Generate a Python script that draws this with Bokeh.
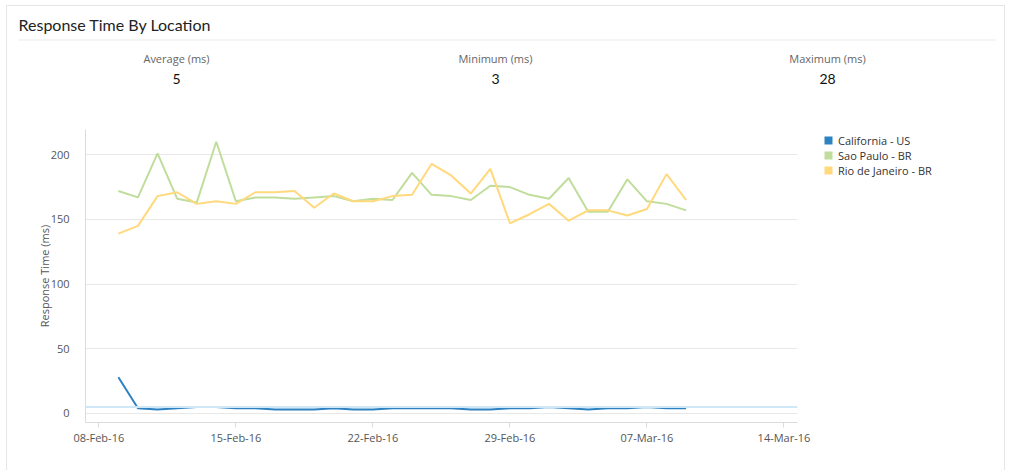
from datetime import datetime, timedelta
import pandas as pd
from bokeh.plotting import figure
from bokeh.layouts import column, row
from bokeh.models import (Span, Legend, LegendItem, FixedTicker, DatetimeTickFormatter,
                          Range1d, ColumnDataSource)
from bokeh.core.properties import value
from bokeh.embed import file_html
from bokeh.resources import INLINE

# ---------------- data ----------------
title_text = "Response Time By Location"
stat_labels = ["Average (ms)", "Minimum (ms)", "Maximum (ms)"]
stat_values = ["5", "3", "28"]
avg_value = 5

dates = pd.date_range("2016-02-09", "2016-03-09", freq="D")
california = [28, 4, 3, 4, 5, 5, 4, 4, 3, 3, 3, 4, 3, 3, 4, 4, 4, 4, 3, 3,
              4, 4, 5, 4, 3, 4, 4, 5, 4, 4]
sao_paulo = [172, 167, 201, 166, 163, 210, 164, 167, 167, 166, 167, 168, 164, 166, 165,
             186, 169, 168, 165, 176, 175, 169, 166, 182, 156, 156, 181, 164, 162, 157]
rio = [139, 145, 168, 171, 162, 164, 162, 171, 171, 172, 159, 170, 164, 164, 168,
       169, 193, 184, 170, 189, 147, 154, 162, 149, 157, 157, 153, 158, 185, 165]
series_names = ["California - US", "Sao Paulo - BR", "Rio de Janeiro - BR"]
series_values = [california, sao_paulo, rio]
series_colors = ["#2e82c2", "#c0dd9c", "#ffd97c"]

x_tick_dates = [datetime(2016, 2, 8), datetime(2016, 2, 15), datetime(2016, 2, 22),
                datetime(2016, 2, 29), datetime(2016, 3, 7), datetime(2016, 3, 14)]
y_ticks = [0, 50, 100, 150, 200]

# ---------------- layout constants (page pixels) ----------------
CARD_L, CARD_T = 6, 5            # card border position
OX, OY = CARD_L + 1, CARD_T + 1  # content origin inside the border
CW = 997                         # content width
HEAD_H = 100                     # header height
FL, FR, FT, FB = 85, 797, 129, 422   # plot frame in page pixels
PAGE_H = 470
CHART_RB = 20                    # right border of chart (room for last tick label)

# ---------------- header ----------------
head = figure(width=CW, height=HEAD_H, output_backend="svg", toolbar_location=None,
              x_axis_type=None, y_axis_type=None,
              x_range=Range1d(0, CW), y_range=Range1d(HEAD_H, 0),
              min_border=0, frame_align=False)
head.outline_line_color = None
head.grid.visible = False

head.text(x=[18 - OX], y=[24 - OY], text=[title_text], text_font=value("Lato"),
          text_font_size="16px", text_color="#222222", text_baseline="middle",
          text_align="left")
head.segment(x0=[18 - OX], x1=[995 - OX], y0=[39.5 - OY], y1=[39.5 - OY],
             line_color="#ebebeb", line_width=1)
stat_x = [176 - OX, 495 - OX, 827 - OX]
head.text(x=stat_x, y=[58 - OY] * 3, text=stat_labels, text_font=value("Open Sans"),
          text_font_size="11px", text_color="#666666", text_baseline="middle",
          text_align="center")
head.text(x=stat_x, y=[78 - OY] * 3, text=stat_values, text_font=value("Lato"),
          text_font_size="14px", text_color="#111111", text_baseline="middle",
          text_align="center")

# ---------------- chart ----------------
chart_top = OY + HEAD_H
chart_h = PAGE_H - chart_top
chart_w = FR - OX + CHART_RB
x_start = datetime(2016, 2, 8) - timedelta(days=0.68)
x_end = datetime(2016, 2, 8) + timedelta(days=35.69)

p = figure(width=chart_w, height=chart_h, output_backend="svg", toolbar_location=None,
           x_axis_type="datetime",
           x_range=Range1d(x_start, x_end), y_range=Range1d(-7, 219.5),
           min_border_left=FL - OX, min_border_right=CHART_RB,
           min_border_top=FT - chart_top, min_border_bottom=PAGE_H - FB,
           frame_align=False)
p.outline_line_color = None

p.xaxis.ticker = FixedTicker(ticks=[d.timestamp() * 1000 for d in x_tick_dates])
fmt = "%d-%b-%y"
p.xaxis.formatter = DatetimeTickFormatter(days=fmt, months=fmt, years=fmt, hours=fmt,
                                          hourmin=fmt, minutes=fmt, minsec=fmt,
                                          seconds=fmt, milliseconds=fmt, microseconds=fmt)
p.yaxis.ticker = FixedTicker(ticks=y_ticks)
for ax in (p.xaxis[0], p.yaxis[0]):
    ax.major_label_text_font = "Open Sans"
    ax.major_label_text_font_size = "11px"
    ax.major_label_text_color = "#555555"
    ax.minor_tick_line_color = None
    ax.axis_line_color = "#dcdcdc"
p.xaxis.major_tick_line_color = "#dcdcdc"
p.xaxis.major_tick_out = 5
p.xaxis.major_tick_in = 0
p.xaxis.major_label_standoff = 2
p.yaxis.major_tick_line_color = None
p.yaxis.major_label_standoff = 10
p.yaxis.axis_label = "Response Time (ms)"
p.yaxis.axis_label_text_font = "Open Sans"
p.yaxis.axis_label_text_font_size = "11px"
p.yaxis.axis_label_text_font_style = "normal"
p.yaxis.axis_label_text_color = "#555555"
p.yaxis.axis_label_standoff = -4

p.xgrid.grid_line_color = None
p.ygrid.grid_line_color = "#e8e8e8"

p.add_layout(Span(location=avg_value, dimension="width", line_color="#cfe7f7",
                  line_width=2))

for name, vals, col in zip(series_names, series_values, series_colors):
    src = ColumnDataSource(dict(x=dates, y=vals))
    p.line("x", "y", source=src, line_color=col, line_width=2)

# ---------------- legend panel ----------------
leg_w = CW - chart_w
legf = figure(width=leg_w, height=chart_h, output_backend="svg", toolbar_location=None,
              x_axis_type=None, y_axis_type=None, min_border=0, frame_align=False,
              x_range=Range1d(0, 1), y_range=Range1d(0, 1))
legf.outline_line_color = None
legf.grid.visible = False

nan = float("nan")
items = []
for name, col in zip(series_names, series_colors):
    proxy = legf.quad(left=[nan], right=[nan], top=[nan], bottom=[nan],
                      fill_color=col, line_color=None)
    items.append(LegendItem(label=name, renderers=[proxy]))

LEG_LEFT, LEG_TOP, LEG_H = 823, 132, 45.5
legend = Legend(items=items,
                location=(LEG_LEFT - (OX + chart_w), chart_h - (LEG_TOP - chart_top) - LEG_H),
                orientation="vertical",
                border_line_color=None, background_fill_alpha=0, padding=0,
                spacing=0, margin=0, glyph_width=10, glyph_height=10,
                label_standoff=5, label_height=12, label_text_font="Open Sans",
                label_text_font_size="11px", label_text_color="#333333")
legf.add_layout(legend, "center")

page = column(head, row(p, legf, spacing=0), spacing=0, margin=(CARD_T, 0, 0, CARD_L),
              styles={"border": "1px solid #e6e6e6", "border-bottom": "none"})

open("out.html", "w").write(file_html(page, INLINE))
